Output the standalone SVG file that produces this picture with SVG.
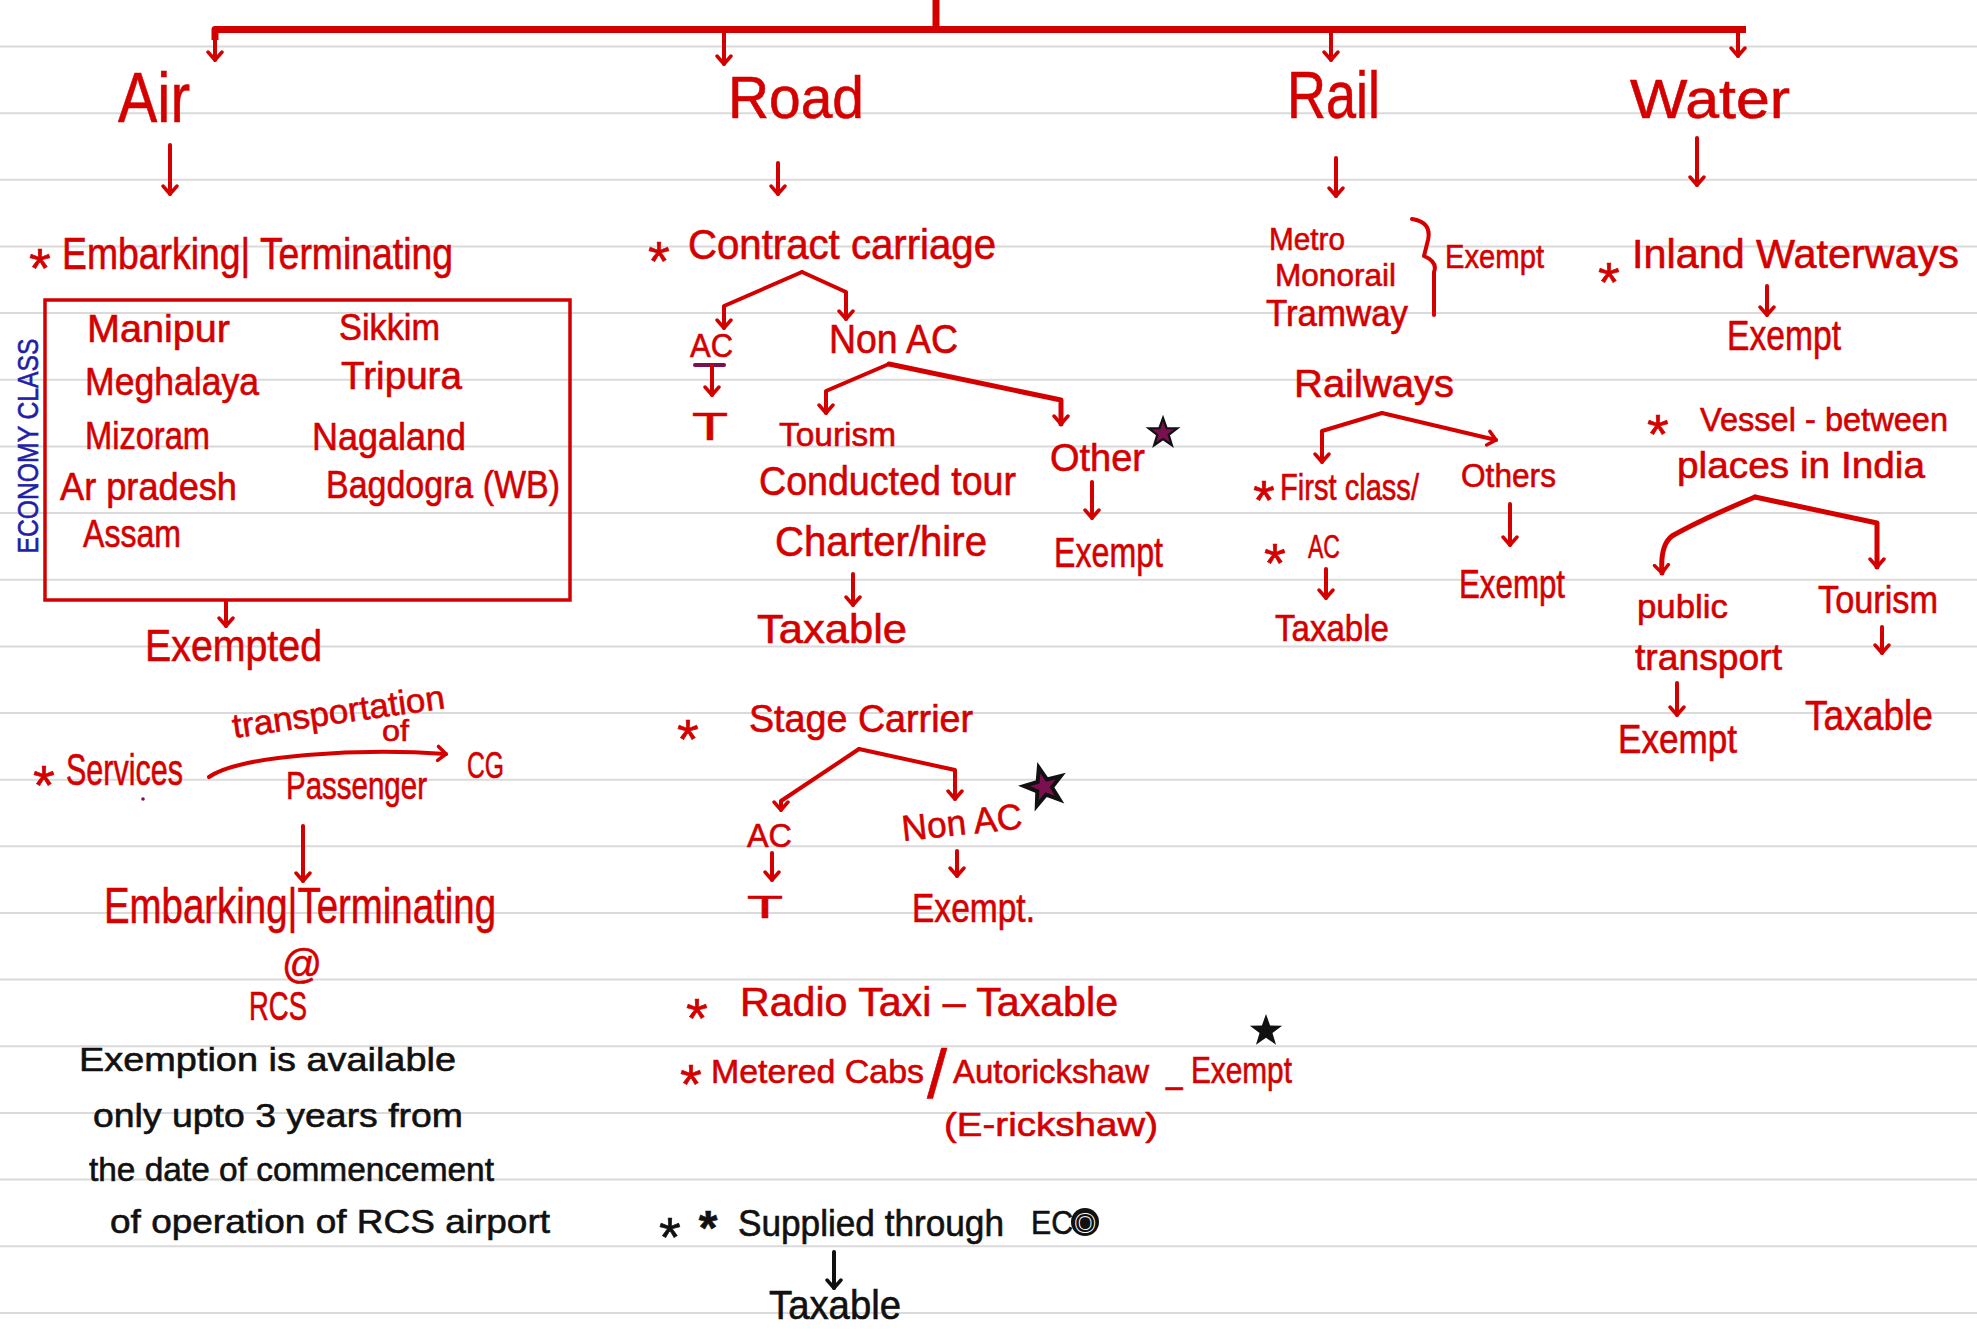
<svg xmlns="http://www.w3.org/2000/svg" width="1977" height="1335" viewBox="0 0 1977 1335">
<style>
text{font-family:"Liberation Sans",Arial,sans-serif;fill:#d40000;stroke:#d40000;stroke-width:0.6;}
.k{fill:#111;stroke:#111;}
.b{fill:#1f1fa8;stroke:#1f1fa8;}
.st{font-size:56px;text-anchor:middle;}
.c{fill:none;stroke:#d40000;stroke-width:4;stroke-linecap:round;stroke-linejoin:round;}
.ck{fill:none;stroke:#111;stroke-width:4;stroke-linecap:round;}
.rule{stroke:#dadada;stroke-width:2;}
</style>
<defs>
<marker id="ah" markerUnits="userSpaceOnUse" markerWidth="20" markerHeight="20" refX="10" refY="10" orient="auto"><path d="M2 3 L10 10 L2 17" fill="none" stroke="#d40000" stroke-width="3.5" stroke-linecap="round" stroke-linejoin="round"/></marker>
<marker id="ahk" markerUnits="userSpaceOnUse" markerWidth="20" markerHeight="20" refX="10" refY="10" orient="auto"><path d="M2 3 L10 10 L2 17" fill="none" stroke="#111" stroke-width="3.5" stroke-linecap="round" stroke-linejoin="round"/></marker>
<path id="star5" d="M0 -1 L0.24 -0.33 L0.95 -0.31 L0.38 0.12 L0.59 0.81 L0 0.4 L-0.59 0.81 L-0.38 0.12 L-0.95 -0.31 L-0.24 -0.33 Z"/>
</defs>
<rect width="1977" height="1335" fill="#fff"/>
<g id="paper">
<line class="rule" x1="0" y1="46.5" x2="1977" y2="46.5"/>
<line class="rule" x1="0" y1="113.2" x2="1977" y2="113.2"/>
<line class="rule" x1="0" y1="179.8" x2="1977" y2="179.8"/>
<line class="rule" x1="0" y1="246.5" x2="1977" y2="246.5"/>
<line class="rule" x1="0" y1="313.1" x2="1977" y2="313.1"/>
<line class="rule" x1="0" y1="379.8" x2="1977" y2="379.8"/>
<line class="rule" x1="0" y1="446.4" x2="1977" y2="446.4"/>
<line class="rule" x1="0" y1="513.1" x2="1977" y2="513.1"/>
<line class="rule" x1="0" y1="579.7" x2="1977" y2="579.7"/>
<line class="rule" x1="0" y1="646.4" x2="1977" y2="646.4"/>
<line class="rule" x1="0" y1="713" x2="1977" y2="713"/>
<line class="rule" x1="0" y1="779.7" x2="1977" y2="779.7"/>
<line class="rule" x1="0" y1="846.3" x2="1977" y2="846.3"/>
<line class="rule" x1="0" y1="913" x2="1977" y2="913"/>
<line class="rule" x1="0" y1="979.6" x2="1977" y2="979.6"/>
<line class="rule" x1="0" y1="1046.3" x2="1977" y2="1046.3"/>
<line class="rule" x1="0" y1="1112.9" x2="1977" y2="1112.9"/>
<line class="rule" x1="0" y1="1179.6" x2="1977" y2="1179.6"/>
<line class="rule" x1="0" y1="1246.2" x2="1977" y2="1246.2"/>
<line class="rule" x1="0" y1="1312.9" x2="1977" y2="1312.9"/>
</g>

<g id="connectors">
<path d="M936 0 L936 29.5" fill="none" stroke="#d40000" stroke-width="7"/>
<path d="M215 40 L215 29.5 L1746 29.5" fill="none" stroke="#d40000" stroke-width="7" stroke-linejoin="round"/>
<path class="c" d="M215 33 L215 60" marker-end="url(#ah)"/>
<path class="c" d="M724 33 L724 64" marker-end="url(#ah)"/>
<path class="c" d="M1331 33 L1331 60" marker-end="url(#ah)"/>
<path class="c" d="M1738 33 L1738 56" marker-end="url(#ah)"/>
<path class="c" d="M170 145 L170 194" marker-end="url(#ah)"/>
<path class="c" d="M226 602 L226 626" marker-end="url(#ah)"/>
<path class="c" d="M209 777 C240 755 360 748 446 754" marker-end="url(#ah)"/>
<path class="c" d="M303 826 L303 881" marker-end="url(#ah)"/>
<path class="c" d="M778 163 L778 194" marker-end="url(#ah)"/>
<path class="c" d="M802 272 L724 306 L724 328" marker-end="url(#ah)"/>
<path class="c" d="M802 272 L846 292 L846 319" marker-end="url(#ah)"/>
<path d="M695 365 L724 365" stroke="#7a1050" stroke-width="4" stroke-linecap="round"/>
<path class="c" d="M712 366 L712 395" marker-end="url(#ah)"/>
<path class="c" d="M889 364 L826 391 L826 413" marker-end="url(#ah)"/>
<path class="c" d="M889 364 L1061 400 L1061 424" marker-end="url(#ah)" style="stroke-width:5"/>
<path class="c" d="M853 574 L853 605" marker-end="url(#ah)"/>
<path class="c" d="M1092 482 L1092 518" marker-end="url(#ah)"/>
<path class="c" d="M859 749 L781 801 L781 810" marker-end="url(#ah)"/>
<path class="c" d="M859 749 L955 770 L955 799" marker-end="url(#ah)"/>
<path class="c" d="M772 853 L772 880" marker-end="url(#ah)"/>
<path class="c" d="M957 851 L957 876" marker-end="url(#ah)"/>
<path class="ck" d="M834 1252 L834 1288" marker-end="url(#ahk)"/>
<path class="c" d="M1336 158 L1336 196" marker-end="url(#ah)"/>
<path class="c" d="M1412 219 Q1432 222 1428 240 L1424 256 Q1438 262 1434 272 L1434 315"/>
<path class="c" d="M1382 413 L1322 431 L1322 462" marker-end="url(#ah)"/>
<path class="c" d="M1382 413 L1496 440" marker-end="url(#ah)"/>
<path class="c" d="M1510 504 L1510 545" marker-end="url(#ah)"/>
<path class="c" d="M1326 569 L1326 598" marker-end="url(#ah)"/>
<path class="c" d="M1697 138 L1697 185" marker-end="url(#ah)"/>
<path class="c" d="M1767 286 L1767 315" marker-end="url(#ah)"/>
<path class="c" d="M1755 497 Q1700 520 1672 536 Q1660 545 1662 573" marker-end="url(#ah)" style="stroke-width:5"/>
<path class="c" d="M1755 497 L1877 523 L1877 567" marker-end="url(#ah)" style="stroke-width:5"/>
<path class="c" d="M1677 683 L1677 715" marker-end="url(#ah)"/>
<path class="c" d="M1882 627 L1882 653" marker-end="url(#ah)"/>
</g>

<g id="air">
<text x="118" y="122" font-size="70" textLength="72" lengthAdjust="spacingAndGlyphs">Air</text>
</g>
<g id="air-embarking">
<text class="st" x="40" y="287">*</text>
<text x="62" y="269" font-size="45" textLength="391" lengthAdjust="spacingAndGlyphs">Embarking| Terminating</text>
</g>
<g id="air-states">
<rect x="45" y="300" width="525" height="300" fill="none" stroke="#d40000" stroke-width="3.5"/>
<text class="b" transform="translate(38,446) rotate(-90)" x="0" y="0" font-size="30" text-anchor="middle" textLength="215" lengthAdjust="spacingAndGlyphs">ECONOMY CLASS</text>
<text x="87" y="342" font-size="38" textLength="143" lengthAdjust="spacingAndGlyphs">Manipur</text>
<text x="85" y="395" font-size="38" textLength="174" lengthAdjust="spacingAndGlyphs">Meghalaya</text>
<text x="85" y="449" font-size="38" textLength="125" lengthAdjust="spacingAndGlyphs">Mizoram</text>
<text x="60" y="500" font-size="38" textLength="177" lengthAdjust="spacingAndGlyphs">Ar pradesh</text>
<text x="83" y="547" font-size="38" textLength="98" lengthAdjust="spacingAndGlyphs">Assam</text>
<text x="339" y="340" font-size="36" textLength="101" lengthAdjust="spacingAndGlyphs">Sikkim</text>
<text x="341" y="389" font-size="38" textLength="121" lengthAdjust="spacingAndGlyphs">Tripura</text>
<text x="312" y="450" font-size="38" textLength="154" lengthAdjust="spacingAndGlyphs">Nagaland</text>
<text x="326" y="498" font-size="38" textLength="234" lengthAdjust="spacingAndGlyphs">Bagdogra (WB)</text>
</g>
<g id="air-exempted">
<text x="145" y="661" font-size="44" textLength="177" lengthAdjust="spacingAndGlyphs">Exempted</text>
</g>
<g id="air-services">
<text class="st" x="44" y="804">*</text>
<text x="66" y="785" font-size="44" textLength="117" lengthAdjust="spacingAndGlyphs">Services</text>
<text transform="rotate(-8 234 738)" x="234" y="738" font-size="34" textLength="214" lengthAdjust="spacingAndGlyphs">transportation</text>
<text x="382" y="741" font-size="30" textLength="27" lengthAdjust="spacingAndGlyphs">of</text>
<text x="286" y="799" font-size="38" textLength="141" lengthAdjust="spacingAndGlyphs">Passenger</text>
<text x="467" y="778" font-size="36" textLength="37" lengthAdjust="spacingAndGlyphs">CG</text>
<circle cx="143" cy="799" r="1.8" fill="#7a1050"/>
</g>
<g id="air-rcs">
<text x="104" y="923" font-size="50" textLength="392" lengthAdjust="spacingAndGlyphs">Embarking|Terminating</text>
<text x="282" y="978" font-size="40" textLength="40" lengthAdjust="spacingAndGlyphs">@</text>
<text x="249" y="1020" font-size="40" textLength="58" lengthAdjust="spacingAndGlyphs">RCS</text>
</g>
<g id="air-note">
<text class="k" x="79" y="1071" font-size="34" textLength="377" lengthAdjust="spacingAndGlyphs">Exemption is available</text>
<text class="k" x="93" y="1127" font-size="34" textLength="370" lengthAdjust="spacingAndGlyphs">only upto 3 years from</text>
<text class="k" x="89" y="1181" font-size="34" textLength="405" lengthAdjust="spacingAndGlyphs">the date of commencement</text>
<text class="k" x="110" y="1233" font-size="34" textLength="440" lengthAdjust="spacingAndGlyphs">of operation of RCS airport</text>
</g>

<g id="road">
<text x="728" y="118" font-size="60" textLength="136" lengthAdjust="spacingAndGlyphs">Road</text>
</g>
<g id="road-contract">
<text class="st" x="659" y="280">*</text>
<text x="688" y="259" font-size="42" textLength="308" lengthAdjust="spacingAndGlyphs">Contract carriage</text>
<text x="690" y="357" font-size="34" textLength="43" lengthAdjust="spacingAndGlyphs">AC</text>
<text x="692" y="440" font-size="38" textLength="36" lengthAdjust="spacingAndGlyphs">T</text>
<text x="829" y="353" font-size="40" textLength="129" lengthAdjust="spacingAndGlyphs">Non AC</text>
<text x="779" y="446" font-size="34" textLength="117" lengthAdjust="spacingAndGlyphs">Tourism</text>
<text x="759" y="495" font-size="40" textLength="257" lengthAdjust="spacingAndGlyphs">Conducted tour</text>
<text x="775" y="556" font-size="42" textLength="212" lengthAdjust="spacingAndGlyphs">Charter/hire</text>
<text x="757" y="643" font-size="40" textLength="150" lengthAdjust="spacingAndGlyphs">Taxable</text>
<text x="1050" y="471" font-size="38" textLength="95" lengthAdjust="spacingAndGlyphs">Other</text>
<text x="1054" y="567" font-size="42" textLength="109" lengthAdjust="spacingAndGlyphs">Exempt</text>
<use href="#star5" transform="translate(1163 433) scale(15)" fill="#7a1050" stroke="#111" stroke-width="0.15"/>
</g>
<g id="road-stage">
<text class="st" x="688" y="758">*</text>
<text x="749" y="732" font-size="38" textLength="224" lengthAdjust="spacingAndGlyphs">Stage Carrier</text>
<text x="747" y="847" font-size="34" textLength="45" lengthAdjust="spacingAndGlyphs">AC</text>
<text x="747" y="918" font-size="32" textLength="36" lengthAdjust="spacingAndGlyphs">T</text>
<text transform="rotate(-6 903 841)" x="903" y="841" font-size="36" textLength="121" lengthAdjust="spacingAndGlyphs">Non AC</text>
<text x="912" y="922" font-size="40" textLength="123" lengthAdjust="spacingAndGlyphs">Exempt.</text>
<use href="#star5" transform="translate(1044 787) scale(20) rotate(-15)" fill="#7a1050" stroke="#111" stroke-width="0.2"/>
</g>
<g id="road-radio">
<text class="st" x="697" y="1037">*</text>
<text x="740" y="1016" font-size="40" textLength="378" lengthAdjust="spacingAndGlyphs">Radio Taxi – Taxable</text>
</g>
<g id="road-metered">
<text class="st" x="691" y="1103">*</text>
<text x="711" y="1083" font-size="34" textLength="213" lengthAdjust="spacingAndGlyphs">Metered Cabs</text>
<text x="927" y="1098" font-size="68" textLength="20" lengthAdjust="spacingAndGlyphs">/</text>
<text x="953" y="1083" font-size="33" textLength="196" lengthAdjust="spacingAndGlyphs">Autorickshaw</text>
<text x="1166" y="1083" font-size="36" textLength="126" lengthAdjust="spacingAndGlyphs">_ Exempt</text>
<text x="944" y="1136" font-size="34" textLength="214" lengthAdjust="spacingAndGlyphs">(E-rickshaw)</text>
<use href="#star5" transform="translate(1266 1031) scale(17)" fill="#111"/>
</g>
<g id="road-eco">
<text class="st k" x="670" y="1256">*</text>
<text class="k" x="708" y="1244" font-size="48" font-weight="bold" text-anchor="middle">*</text>
<text class="k" x="738" y="1236" font-size="36" textLength="266" lengthAdjust="spacingAndGlyphs">Supplied through</text>
<text class="k" x="1031" y="1234" font-size="34" textLength="42" lengthAdjust="spacingAndGlyphs">EC</text>
<circle cx="1085" cy="1222" r="14" fill="#111"/>
<text x="1085" y="1232" font-size="26" text-anchor="middle" style="fill:#111;stroke:#fff;stroke-width:2;paint-order:stroke">O</text>
<text class="k" x="769" y="1319" font-size="40" textLength="132" lengthAdjust="spacingAndGlyphs">Taxable</text>
</g>

<g id="rail">
<text x="1287" y="118" font-size="66" textLength="93" lengthAdjust="spacingAndGlyphs">Rail</text>
</g>
<g id="rail-metro">
<text x="1269" y="250" font-size="32" textLength="76" lengthAdjust="spacingAndGlyphs">Metro</text>
<text x="1275" y="286" font-size="32" textLength="121" lengthAdjust="spacingAndGlyphs">Monorail</text>
<text x="1266" y="326" font-size="36" textLength="142" lengthAdjust="spacingAndGlyphs">Tramway</text>
<text x="1445" y="268" font-size="34" textLength="99" lengthAdjust="spacingAndGlyphs">Exempt</text>
</g>
<g id="rail-railways">
<text x="1294" y="397" font-size="38" textLength="160" lengthAdjust="spacingAndGlyphs">Railways</text>
<text class="st" x="1264" y="519">*</text>
<text x="1280" y="500" font-size="36" textLength="139" lengthAdjust="spacingAndGlyphs">First class/</text>
<text class="st" x="1275" y="582">*</text>
<text x="1308" y="558" font-size="34" textLength="32" lengthAdjust="spacingAndGlyphs">AC</text>
<text x="1275" y="641" font-size="36" textLength="114" lengthAdjust="spacingAndGlyphs">Taxable</text>
<text x="1461" y="487" font-size="34" textLength="95" lengthAdjust="spacingAndGlyphs">Others</text>
<text x="1459" y="598" font-size="40" textLength="106" lengthAdjust="spacingAndGlyphs">Exempt</text>
</g>

<g id="water">
<text x="1630" y="118" font-size="56" textLength="160" lengthAdjust="spacingAndGlyphs">Water</text>
</g>
<g id="water-inland">
<text class="st" x="1609" y="301">*</text>
<text x="1632" y="268" font-size="40" textLength="327" lengthAdjust="spacingAndGlyphs">Inland Waterways</text>
<text x="1727" y="350" font-size="42" textLength="114" lengthAdjust="spacingAndGlyphs">Exempt</text>
</g>
<g id="water-vessel">
<text class="st" x="1658" y="453">*</text>
<text x="1700" y="431" font-size="33" textLength="248" lengthAdjust="spacingAndGlyphs">Vessel - between</text>
<text x="1677" y="478" font-size="36" textLength="248" lengthAdjust="spacingAndGlyphs">places in India</text>
<text x="1637" y="618" font-size="34" textLength="91" lengthAdjust="spacingAndGlyphs">public</text>
<text x="1635" y="670" font-size="36" textLength="147" lengthAdjust="spacingAndGlyphs">transport</text>
<text x="1618" y="753" font-size="40" textLength="119" lengthAdjust="spacingAndGlyphs">Exempt</text>
<text x="1818" y="613" font-size="38" textLength="120" lengthAdjust="spacingAndGlyphs">Tourism</text>
<text x="1805" y="730" font-size="42" textLength="128" lengthAdjust="spacingAndGlyphs">Taxable</text>
</g>
</svg>
